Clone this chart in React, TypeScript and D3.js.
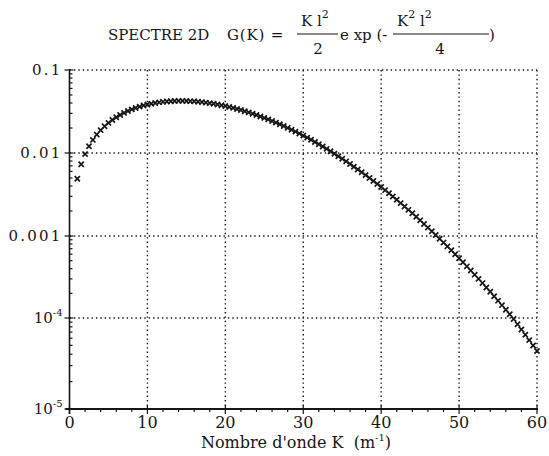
import React from "react";
import * as d3 from "d3";

// Wavenumber K (m^-1) sampled every 0.5
const K_VALUES = [
  1, 1.5, 2, 2.5, 3, 3.5, 4, 4.5, 5, 5.5, 6, 6.5, 7, 7.5, 8, 8.5, 9, 9.5, 10, 10.5,
  11, 11.5, 12, 12.5, 13, 13.5, 14, 14.5, 15, 15.5, 16, 16.5, 17, 17.5, 18, 18.5, 19, 19.5, 20, 20.5,
  21, 21.5, 22, 22.5, 23, 23.5, 24, 24.5, 25, 25.5, 26, 26.5, 27, 27.5, 28, 28.5, 29, 29.5, 30, 30.5,
  31, 31.5, 32, 32.5, 33, 33.5, 34, 34.5, 35, 35.5, 36, 36.5, 37, 37.5, 38, 38.5, 39, 39.5, 40, 40.5,
  41, 41.5, 42, 42.5, 43, 43.5, 44, 44.5, 45, 45.5, 46, 46.5, 47, 47.5, 48, 48.5, 49, 49.5, 50, 50.5,
  51, 51.5, 52, 52.5, 53, 53.5, 54, 54.5, 55, 55.5, 56, 56.5, 57, 57.5, 58, 58.5, 59, 59.5, 60,
];

// Spectrum G(K)
const G_VALUES = [
  0.004889, 0.00731, 0.009705, 0.01207, 0.01438, 0.01665, 0.01885, 0.02099, 0.02305, 0.02503,
  0.02692, 0.02872, 0.03042, 0.03202, 0.03351, 0.0349, 0.03617, 0.03732, 0.03835, 0.03927,
  0.04007, 0.04076, 0.04132, 0.04177, 0.04211, 0.04233, 0.04244, 0.04245, 0.04236, 0.04216,
  0.04188, 0.0415, 0.04104, 0.0405, 0.03988, 0.0392, 0.03845, 0.03764, 0.03678, 0.03588,
  0.03493, 0.03395, 0.03293, 0.03189, 0.03084, 0.02976, 0.02868, 0.02758, 0.02649, 0.0254,
  0.02431, 0.02324, 0.02217, 0.02113, 0.0201, 0.01909, 0.0181, 0.01714, 0.0162, 0.0153,
  0.01442, 0.01357, 0.01276, 0.01197, 0.01122, 0.0105, 0.009808, 0.009151, 0.008526, 0.007932,
  0.007369, 0.006837, 0.006333, 0.005859, 0.005413, 0.004993, 0.0046, 0.004232, 0.003888, 0.003567,
  0.003268, 0.00299, 0.002731, 0.002492, 0.002271, 0.002066, 0.001877, 0.001704, 0.001544, 0.001397,
  0.001263, 0.00114, 0.001027, 0.0009247, 0.0008313, 0.0007463, 0.0006691, 0.0005991, 0.0005356, 0.0004784,
  0.0004266, 0.0003799, 0.0003379, 0.0003002, 0.0002663, 0.0002359, 0.0002088, 0.0001845, 0.0001628, 0.0001435,
  0.0001263, 0.000111, 0.00009744, 0.00008543, 0.00007481, 0.00006541, 0.00005713, 0.00004983, 0.0000434,
];

const X_TICKS = [0, 10, 20, 30, 40, 50, 60];
const Y_DECADES = [1e-5, 1e-4, 1e-3, 1e-2, 1e-1];
const Y_LABELS: [string, string][] = [
  ["10", "-5"],
  ["10", "-4"],
  ["0.001", ""],
  ["0.01", ""],
  ["0.1", ""],
];

const W = 549;
const H = 456;
const FONT = "'DejaVu Serif', serif";
const INK = "#151515";

export default function App() {
  const x = d3.scaleLinear().domain([0, 60]).range([69.5, 537]);
  const y = d3.scaleLog().domain(Y_DECADES).range([409, 318, 236, 153, 70]);

  const xMinor = d3.range(0, 61, 2).filter((v) => v % 10 !== 0);
  const yMinor: number[] = [];
  Y_DECADES.slice(0, -1).forEach((d) => {
    for (let m = 2; m <= 9; m++) yMinor.push(d * m);
  });

  const pts = K_VALUES.map((k, i) => [x(k), y(G_VALUES[i])] as [number, number]);
  const s = 2.6;
  const txt = { fontFamily: FONT };

  return (
    <svg
      width={W}
      height={H}
      style={{ position: "absolute", left: 0, top: 0, background: "#fff", fontFamily: FONT }}
    >
      <rect width={W} height={H} fill="#fff" />

      {/* dotted grid: inner verticals + right border, inner horizontals + top border */}
      <g stroke={INK} strokeWidth={1.4} strokeDasharray="1.4,3">
        {X_TICKS.slice(1).map((t) => (
          <line key={"gx" + t} x1={x(t)} x2={x(t)} y1={y(1e-1)} y2={y(1e-5)} />
        ))}
        {Y_DECADES.slice(1).map((t) => (
          <line key={"gy" + t} x1={x(0)} x2={x(60)} y1={y(t)} y2={y(t)} />
        ))}
      </g>

      {/* solid axes */}
      <line x1={x(0)} x2={x(0)} y1={y(1e-1) - 1} y2={y(1e-5) + 5} stroke={INK} strokeWidth={1.6} />
      <line x1={x(0) - 4} x2={x(60) + 1} y1={y(1e-5)} y2={y(1e-5)} stroke={INK} strokeWidth={2} />

      {/* y ticks */}
      <g stroke={INK} strokeWidth={1.2}>
        {Y_DECADES.map((t) => (
          <line key={"yt" + t} x1={x(0) - 5} x2={x(0) + 4} y1={y(t)} y2={y(t)} />
        ))}
        {yMinor.map((t, i) => (
          <line key={"ym" + i} x1={x(0)} x2={x(0) + 3} y1={y(t)} y2={y(t)} />
        ))}
      </g>

      {/* x ticks */}
      <g stroke={INK} strokeWidth={1.2}>
        {X_TICKS.map((t) => (
          <line key={"xt" + t} x1={x(t)} x2={x(t)} y1={y(1e-5) - 4} y2={y(1e-5) + 5} />
        ))}
        {xMinor.map((t) => (
          <line key={"xm" + t} x1={x(t)} x2={x(t)} y1={y(1e-5)} y2={y(1e-5) + 3} />
        ))}
      </g>

      {/* y tick labels */}
      <g fontSize={15} fill={INK} textAnchor="end" style={txt}>
        {Y_DECADES.map((t, i) => (
          <text
            key={"yl" + t}
            x={x(0) - 7}
            y={y(t) + 5}
            letterSpacing={Y_LABELS[i][1] ? 0 : 2.2}
          >
            {Y_LABELS[i][0]}
            {Y_LABELS[i][1] && (
              <tspan fontSize={10} dy={-7}>
                {Y_LABELS[i][1]}
              </tspan>
            )}
          </text>
        ))}
      </g>

      {/* x tick labels */}
      <g fontSize={16} fill={INK} textAnchor="middle" style={txt}>
        {X_TICKS.map((t) => (
          <text key={"xl" + t} x={x(t)} y={y(1e-5) + 19}>
            {t}
          </text>
        ))}
      </g>

      {/* x axis title */}
      <text x={296} y={448} fontSize={16} fill={INK} textAnchor="middle" style={txt}>
        Nombre d'onde K{"\u00a0\u00a0"}(m
        <tspan fontSize={10} dy={-7}>
          -1
        </tspan>
        <tspan dy={7}>)</tspan>
      </text>

      {/* heading with formula */}
      <g fill={INK} fontSize={15} style={txt}>
        <text x={108} y={40}>SPECTRE 2D</text>
        <text x={227} y={40} letterSpacing={0.8}>G(K) =</text>
        <text x={301} y={26}>
          K l
          <tspan fontSize={11} dy={-8}>2</tspan>
        </text>
        <line x1={297} x2={338} y1={34} y2={34} stroke={INK} strokeWidth={1.2} />
        <text x={318} y={54} textAnchor="middle">2</text>
        <text x={340} y={40}>e xp (-</text>
        <text x={397} y={26}>
          K
          <tspan fontSize={11} dy={-8}>2</tspan>
          <tspan dy={8}> l</tspan>
          <tspan fontSize={11} dy={-8}>2</tspan>
        </text>
        <line x1={393} x2={489} y1={34} y2={34} stroke={INK} strokeWidth={1.2} />
        <text x={440} y={54} textAnchor="middle">4</text>
        <text x={489} y={40}>)</text>
      </g>

      {/* data markers */}
      <g stroke={INK} strokeWidth={1.7} fill="none">
        {pts.map(([px, py], i) => (
          <path key={"p" + i} d={`M${px - s},${py - s}L${px + s},${py + s}M${px - s},${py + s}L${px + s},${py - s}`} />
        ))}
      </g>
    </svg>
  );
}
